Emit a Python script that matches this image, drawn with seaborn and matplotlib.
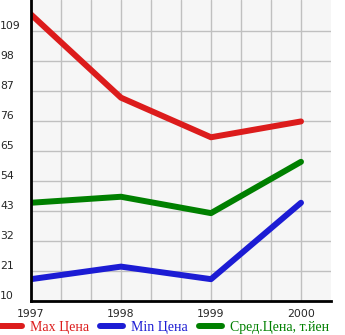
import matplotlib
matplotlib.use("Agg")
import matplotlib.pyplot as plt
import seaborn as sns
import pandas as pd
import numpy as np

years = [1997, 1998, 1999, 2000]
max_price = [115, 84.5, 70, 75.8]
min_price = [18, 22.6, 18, 46]
avg_price = [46, 48.2, 42.2, 61]
series_names = ["Max Цена", "Min Цена", "Сред.Цена, т.йен"]
colors = ["#dc1c1c", "#1c1cd4", "#008000"]
y_ticks = [10, 21, 32, 43, 54, 65, 76, 87, 98, 109]

sns.set_style("white")
plt.rcParams['font.family'] = ['DejaVu Sans']

df = pd.DataFrame({
    "year": years * 3,
    "value": max_price + min_price + avg_price,
    "series": [series_names[0]] * 4 + [series_names[1]] * 4 + [series_names[2]] * 4,
})

fig = plt.figure(figsize=(3.45, 3.35), dpi=100)
ax = fig.add_axes([31 / 345, 34 / 335, 300 / 345, 301 / 335])
ax.set_facecolor("#f6f6f6")

sns.lineplot(data=df, x="year", y="value", hue="series", palette=colors,
             linewidth=4.3, ax=ax, legend=False, solid_capstyle="round")

ax.set_xlim(1997, 2000 + 1 / 3)
ax.set_ylim(10, 120.3)
ax.set_xticks(years)
ax.set_xticklabels([str(y) for y in years], fontsize=7.8)
ax.set_xticks([1997 + i / 3 for i in range(10)], minor=True)
ax.set_yticks(y_ticks)
ax.set_yticklabels([str(v) for v in y_ticks], fontsize=7.8)
for lab in ax.get_yticklabels():
    lab.set_horizontalalignment("left")
    lab.set_verticalalignment("bottom")
ax.tick_params(axis="y", length=0, pad=22.3)
ax.tick_params(axis="x", which="both", length=4, width=1, direction="out", color="black", pad=1.5)
ax.grid(True, which="both", axis="x", color="#c0c0c0", linewidth=1)
ax.grid(True, which="major", axis="y", color="#c0c0c0", linewidth=1)
ax.set_axisbelow(True)
for s in ["top", "right"]:
    ax.spines[s].set_visible(False)
for s in ["left", "bottom"]:
    ax.spines[s].set_color("black")
    ax.spines[s].set_linewidth(2)
ax.set_xlabel("")
ax.set_ylabel("")

handles = [plt.Line2D([], [], color=c, linewidth=4.3, solid_capstyle="round") for c in colors]
leg = fig.legend(handles, series_names, loc="center left", bbox_to_anchor=(-0.005, 8 / 335),
                 ncol=3, frameon=False, handlelength=1.7, handletextpad=0.55,
                 columnspacing=0.8, borderaxespad=0, borderpad=0,
                 prop={"family": "Liberation Serif", "size": 10})
for t, c in zip(leg.get_texts(), colors):
    t.set_color(c)

fig.savefig("out.png", dpi=100)
